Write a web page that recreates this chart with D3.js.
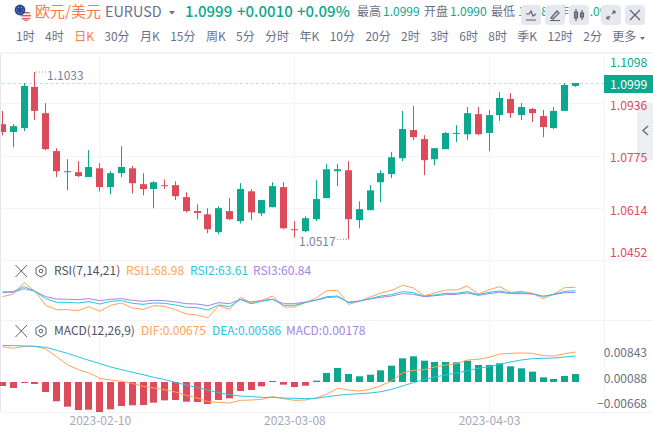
<!DOCTYPE html>
<html>
<head>
<meta charset="utf-8">
<script src="https://cdnjs.cloudflare.com/ajax/libs/d3/7.8.5/d3.min.js"></script>
<style>
  html, body { margin: 0; padding: 0; background: #fff; overflow: hidden; }
  body { width: 653px; height: 432px; position: relative; font-family: "Noto Sans CJK SC", "Noto Sans", sans-serif; }
  svg { position: absolute; left: 0; top: 0; }
  text { font-family: "Noto Sans CJK SC", "Noto Sans", sans-serif; }
  #tabs { position: absolute; left: 16px; top: 27px; display: flex; gap: 10.4px; font-size: 12px; line-height: 18px; color: #6b7085; white-space: nowrap; }
  .tab.on { color: #ff7a45; }
</style>
</head>
<body>
<svg id="chart" width="653" height="432"></svg>
<div id="tabs"></div>
<script>
const tabs = ["1时", "4时", "日K", "30分", "月K", "15分", "周K", "5分", "分时", "年K", "10分", "20分", "2时", "3时", "6时", "8时", "季K", "12时", "2分", "更多"];
const activeTab = "日K";

const opens = [1.0872, 1.0848, 1.0860, 1.0987, 1.0906, 1.0789, 1.0726, 1.0724, 1.0709, 1.0736, 1.0678, 1.0721, 1.0736, 1.0687, 1.0672, 1.0684, 1.0684, 1.0647, 1.0604, 1.0594, 1.0539, 1.0604, 1.0573, 1.0665, 1.0597, 1.0616, 1.0678, 1.0548, 1.0542, 1.0579, 1.0644, 1.0727, 1.0730, 1.0576, 1.0607, 1.0693, 1.0718, 1.0767, 1.0854, 1.0826, 1.0764, 1.0795, 1.0844, 1.0841, 1.0903, 1.0845, 1.0900, 1.0950, 1.0900, 1.0919, 1.0897, 1.0860, 1.0913, 1.0990];
const closes = [1.0848, 1.0866, 1.0990, 1.0913, 1.0795, 1.0727, 1.0727, 1.0712, 1.0740, 1.0678, 1.0721, 1.0740, 1.0690, 1.0672, 1.0693, 1.0683, 1.0650, 1.0604, 1.0598, 1.0548, 1.0613, 1.0579, 1.0672, 1.0600, 1.0638, 1.0681, 1.0551, 1.0547, 1.0582, 1.0641, 1.0733, 1.0733, 1.0579, 1.0610, 1.0668, 1.0721, 1.0770, 1.0857, 1.0832, 1.0761, 1.0798, 1.0845, 1.0845, 1.0906, 1.0841, 1.0900, 1.0953, 1.0906, 1.0925, 1.0906, 1.0863, 1.0913, 1.0993, 1.0999];
const highs = [1.0913, 1.0872, 1.0999, 1.1033, 1.0937, 1.0798, 1.0764, 1.0758, 1.0792, 1.0752, 1.0727, 1.0804, 1.0743, 1.0721, 1.0696, 1.0702, 1.0696, 1.0662, 1.0625, 1.0613, 1.0619, 1.0644, 1.0690, 1.0672, 1.0638, 1.0693, 1.0693, 1.0573, 1.0588, 1.0699, 1.0749, 1.0749, 1.0758, 1.0634, 1.0684, 1.0730, 1.0786, 1.0913, 1.0928, 1.0838, 1.0798, 1.0848, 1.0869, 1.0925, 1.0925, 1.0916, 1.0971, 1.0968, 1.0937, 1.0922, 1.0916, 1.0925, 1.0999, 1.0999];
const lows = [1.0838, 1.0801, 1.0851, 1.0885, 1.0792, 1.0709, 1.0668, 1.0709, 1.0709, 1.0665, 1.0656, 1.0709, 1.0659, 1.0653, 1.0613, 1.0672, 1.0638, 1.0600, 1.0579, 1.0536, 1.0533, 1.0576, 1.0566, 1.0576, 1.0588, 1.0616, 1.0548, 1.0523, 1.0539, 1.0573, 1.0644, 1.0681, 1.0517, 1.0551, 1.0607, 1.0631, 1.0706, 1.0758, 1.0823, 1.0715, 1.0746, 1.0795, 1.0817, 1.0823, 1.0838, 1.0789, 1.0882, 1.0891, 1.0885, 1.0879, 1.0832, 1.0857, 1.0913, 1.0987];

const rsi1 = [54.5, 58.6, 76.2, 62.8, 41.1, 34.3, 34.3, 32.8, 39.0, 31.8, 41.1, 44.7, 36.9, 34.8, 40.5, 39.5, 34.3, 27.6, 26.1, 21.9, 40.5, 34.8, 53.5, 44.7, 48.8, 55.5, 38.5, 38.5, 45.2, 52.4, 63.8, 64.3, 42.6, 47.3, 54.0, 60.2, 64.3, 72.1, 68.0, 56.0, 60.2, 64.8, 64.8, 71.0, 58.6, 65.3, 70.0, 61.2, 62.8, 59.7, 51.4, 58.6, 68.5, 68.98];
const rsi2 = [61.7, 62.3, 70.0, 62.8, 51.4, 45.7, 45.7, 44.7, 46.8, 43.1, 47.3, 48.3, 44.2, 42.6, 44.7, 44.2, 41.6, 38.0, 37.4, 33.8, 41.6, 39.0, 49.9, 43.6, 47.3, 50.4, 41.1, 41.1, 45.2, 49.3, 54.5, 55.5, 45.2, 47.3, 51.4, 55.5, 57.6, 62.3, 60.7, 55.0, 57.1, 59.7, 59.7, 62.3, 57.6, 61.2, 63.3, 60.2, 60.7, 59.2, 55.0, 58.1, 62.8, 63.61];
const rsi3 = [61.2, 61.2, 66.9, 62.8, 54.5, 50.9, 50.4, 49.9, 51.4, 48.3, 50.4, 51.4, 48.8, 47.3, 48.8, 48.3, 46.2, 43.6, 43.1, 40.5, 45.2, 43.6, 50.4, 46.2, 48.8, 50.4, 43.6, 43.6, 46.2, 48.8, 53.0, 54.0, 46.2, 47.8, 50.9, 53.5, 55.5, 59.2, 58.1, 54.5, 56.0, 57.6, 58.1, 60.2, 56.5, 59.2, 61.2, 59.2, 59.2, 58.6, 55.0, 57.6, 60.7, 60.84];

const macdHist = [-0.0009, -0.00135, -0.00023, -0.00045, -0.00225, -0.00435, -0.00555, -0.0063, -0.00623, -0.00675, -0.00615, -0.0054, -0.00525, -0.00518, -0.00465, -0.00413, -0.00405, -0.00443, -0.0045, -0.00495, -0.00405, -0.00368, -0.00203, -0.0018, -0.00098, 0.00023, -0.0006, -0.00113, -0.00083, 0.0003, 0.00203, 0.00315, 0.0018, 0.00128, 0.00165, 0.00263, 0.00368, 0.00533, 0.00578, 0.0048, 0.0045, 0.0045, 0.00443, 0.0048, 0.00383, 0.00383, 0.0042, 0.00353, 0.00308, 0.00233, 0.00105, 0.00068, 0.00135, 0.00178];
const dif = [0.00795, 0.00758, 0.00803, 0.00803, 0.00743, 0.0057, 0.0039, 0.00278, 0.00203, 0.00083, 0.00045, 0.00015, -0.0003, -0.00098, -0.00135, -0.00173, -0.00225, -0.003, -0.0036, -0.00443, -0.00458, -0.00473, -0.00413, -0.00405, -0.0039, -0.0033, -0.00375, -0.00413, -0.00405, -0.0036, -0.0027, -0.00143, -0.0018, -0.00203, -0.00165, -0.00083, 0.0003, 0.00203, 0.00263, 0.00278, 0.00338, 0.00383, 0.00413, 0.00495, 0.0051, 0.00555, 0.0063, 0.00645, 0.00653, 0.00645, 0.00593, 0.00585, 0.00638, 0.00675];
const dea = [0.00825, 0.00818, 0.0081, 0.00803, 0.0078, 0.00713, 0.00645, 0.00563, 0.00488, 0.00413, 0.00338, 0.00278, 0.00218, 0.00165, 0.00105, 0.00053, -0.00008, -0.00068, -0.0012, -0.0018, -0.0024, -0.00285, -0.00315, -0.0033, -0.00345, -0.00345, -0.0036, -0.00368, -0.00375, -0.00368, -0.0033, -0.003, -0.00278, -0.00263, -0.00248, -0.00218, -0.00165, -0.0009, -0.00015, 0.00053, 0.00113, 0.00158, 0.00203, 0.00255, 0.00308, 0.00345, 0.00398, 0.0045, 0.00495, 0.00525, 0.00533, 0.0054, 0.00563, 0.00586];

const priceTicks = [1.1098, 1.0936, 1.0775, 1.0614, 1.0452];
const macdTicks = [0.00843, 0.00088, -0.00668];
const dateTicks = new Map([[9, "2023-02-10"], [27, "2023-03-08"], [45, "2023-04-03"]]);

const GREEN = "#0aa88c", RED = "#dd4b5a", ORANGE = "#ffa25a", CYAN = "#2cc4e0", PURPLE = "#a583e8";
const GRID = "#f3f4f8", GREY = "#6b7085";

const svg = d3.select("#chart");

d3.select("#tabs").selectAll("span").data(tabs).enter().append("span")
  .attr("class", d => d === activeTab ? "tab on" : "tab")
  .text(d => d);

// scales
const x = d3.scaleLinear().domain([0, 53]).range([2.5, 575.5]);
const y = d3.scaleLinear().domain([1.0517, 1.1033]).range([239.3, 72]);
const yRsi = d3.scaleLinear().domain([21.9, 68.98]).range([317.7, 287.3]);
const yMacd = d3.scaleLinear().domain([0, 0.00675]).range([382, 352]);
const yMacdLabel = d3.scaleLinear().domain([-0.00668, 0.00843]).range([404, 353]);
const px = i => Math.floor(x(i));

// frame
const frame = svg.append("g").attr("stroke", GRID).attr("fill", "none");
frame.append("line").attr("x1", 0).attr("x2", 653).attr("y1", 53).attr("y2", 53).attr("stroke-width", 2);
[260.5, 320.5, 412.5].forEach(v => frame.append("line").attr("x1", 2).attr("x2", 653).attr("y1", v).attr("y2", v));
frame.append("line").attr("x1", 604.5).attr("x2", 604.5).attr("y1", 54).attr("y2", 412);
svg.append("rect").attr("x", 0).attr("y", 54).attr("width", 1).attr("height", 358).attr("fill", "#e4e7f2");

// vertical grid and date axis
const dateAxis = d3.axisBottom(x).tickValues([...dateTicks.keys()]).tickFormat(d => dateTicks.get(d)).tickSize(0);
svg.append("g").attr("transform", "translate(0,415)").call(dateAxis)
  .call(g => g.select(".domain").remove())
  .selectAll("text").attr("font-size", 12).attr("fill", "#a6a9bb").attr("dy", "0.55em");
svg.append("g").selectAll("line").data([...dateTicks.keys()]).enter().append("line")
  .attr("x1", d => px(d) + 0.5).attr("x2", d => px(d) + 0.5).attr("y1", 54).attr("y2", 412)
  .attr("stroke", GRID);

// price grid
svg.append("g").selectAll("line").data(priceTicks.slice(1, 4)).enter().append("line")
  .attr("x1", 2).attr("x2", 604).attr("y1", d => Math.round(y(d)) + 0.5).attr("y2", d => Math.round(y(d)) + 0.5)
  .attr("stroke", GRID);

// current price line
svg.append("line").attr("x1", 2).attr("x2", 604).attr("y1", y(1.0999) + 0.5).attr("y2", y(1.0999) + 0.5)
  .attr("stroke", "#b5e5da").attr("stroke-dasharray", "3 2.4");

// candles
const idx = d3.range(opens.length);
const candleColor = i => closes[i] >= opens[i] ? GREEN : RED;
svg.append("clipPath").attr("id", "plot").append("rect").attr("x", 1).attr("y", 54).attr("width", 603).attr("height", 358);
const candles = svg.append("g").attr("clip-path", "url(#plot)").selectAll("g").data(idx).enter().append("g").attr("fill", candleColor).attr("stroke", "none");
candles.append("rect").attr("x", px).attr("width", 1)
  .attr("y", i => y(highs[i])).attr("height", i => y(lows[i]) - y(highs[i]));
candles.append("rect").attr("x", i => px(i) - 3).attr("width", 7)
  .attr("y", i => y(Math.max(opens[i], closes[i])))
  .attr("height", i => Math.max(1, Math.abs(y(opens[i]) - y(closes[i]))));

// high / low labels
const hiLo = svg.append("g").attr("font-size", 12).attr("fill", "#7d8299");
hiLo.append("text").attr("x", 47).attr("y", 76).attr("dy", "0.35em").text("1.1033");
hiLo.append("text").attr("x", 299).attr("y", 242).attr("dy", "0.35em").text("1.0517");
svg.append("line").attr("x1", 36).attr("x2", 46).attr("y1", y(1.1033)).attr("y2", y(1.1033)).attr("stroke", "#8a8ea3").attr("stroke-dasharray", "1 2");
svg.append("line").attr("x1", 337).attr("x2", 348).attr("y1", y(1.0517)).attr("y2", y(1.0517)).attr("stroke", "#8a8ea3").attr("stroke-dasharray", "1 2");

// side handle, under the price labels
svg.append("path").attr("d", "M653 103 H640 Q637 103 637 106 V157 Q637 160 640 160 H653 Z").attr("fill", "#ecedf1").attr("opacity", 0.95);
svg.append("path").attr("d", "M648 126 L643 130.5 L648 135").attr("fill", "none").attr("stroke", "#6b7085").attr("stroke-width", 1.5);

// price axis
const priceAxis = d3.axisRight(y).tickValues(priceTicks).tickFormat(d3.format(".4f")).tickSize(0);
svg.append("g").attr("transform", "translate(610,0)").call(priceAxis)
  .call(g => g.select(".domain").remove())
  .selectAll(".tick")
  .attr("transform", d => `translate(0,${Math.min(252.7, Math.max(62.7, y(d) + 2.8))})`)
  .select("text").attr("x", 0).attr("font-size", 12.2).attr("fill", d => d > 1.0999 ? GREEN : RED);

svg.append("rect").attr("x", 604).attr("y", 75).attr("width", 49).attr("height", 18).attr("fill", GREEN);
svg.append("text").attr("x", 610).attr("y", 84.5).attr("dy", "0.35em").attr("font-size", 12.2).attr("fill", "#fff").text("1.0999");

// RSI panel
const lineOf = (arr, scale) => d3.line().x((d, i) => x(i)).y(d => scale(d))(arr);
svg.append("clipPath").attr("id", "rsiClip").append("rect").attr("x", 1).attr("y", 261).attr("width", 603).attr("height", 59);
const rsiG = svg.append("g").attr("clip-path", "url(#rsiClip)").attr("fill", "none");
[[rsi3, PURPLE], [rsi1, ORANGE], [rsi2, CYAN]].forEach(([arr, c]) => {
  rsiG.append("path").attr("d", lineOf(arr, yRsi)).attr("stroke", c).attr("stroke-width", 1);
});

// MACD panel
svg.append("g").selectAll("rect").data(macdHist).enter().append("rect")
  .attr("x", (d, i) => px(i) - 3).attr("width", 7)
  .attr("y", d => Math.min(yMacd(d), yMacd(0)))
  .attr("height", d => Math.max(1, Math.abs(yMacd(d) - yMacd(0))))
  .attr("fill", d => d >= 0 ? GREEN : RED);
[[dif, ORANGE], [dea, CYAN]].forEach(([arr, c]) => {
  svg.append("path").attr("d", lineOf(arr, yMacd)).attr("fill", "none").attr("stroke", c).attr("stroke-width", 1);
});

const macdAxis = d3.axisRight(yMacdLabel).tickValues(macdTicks).tickFormat(d3.format(".5f")).tickSize(0);
svg.append("g").attr("transform", "translate(647,0)").call(macdAxis)
  .call(g => g.select(".domain").remove())
  .selectAll("text").attr("x", 0).attr("text-anchor", "end").attr("font-size", 12).attr("fill", GREY);

// panel legends
function panelHead(yc, title, items) {
  const g = svg.append("g");
  g.append("path").attr("d", `M15.5 ${yc - 6} L27 ${yc + 6} M27 ${yc - 6} L15.5 ${yc + 6}`).attr("stroke", "#5c6070").attr("fill", "none");
  g.append("path").attr("d", `M41 ${yc - 6} L46 ${yc - 3} V${yc + 3} L41 ${yc + 6} L36 ${yc + 3} V${yc - 3} Z`).attr("stroke", "#5c6070").attr("fill", "none");
  g.append("circle").attr("cx", 41).attr("cy", yc).attr("r", 1.8).attr("stroke", "#5c6070").attr("fill", "none");
  g.append("text").attr("x", 54).attr("y", yc).attr("dy", "0.35em").attr("font-size", 12).attr("fill", "#4e5264").text(title);
  items.forEach(it => {
    g.append("text").attr("x", it[0]).attr("y", yc).attr("dy", "0.35em").attr("font-size", 12).attr("fill", it[2]).text(it[1]);
  });
}
panelHead(271, "RSI(7,14,21)", [[126, "RSI1:68.98", ORANGE], [190, "RSI2:63.61", CYAN], [253, "RSI3:60.84", PURPLE]]);
panelHead(331, "MACD(12,26,9)", [[141, "DIF:0.00675", ORANGE], [212, "DEA:0.00586", CYAN], [286, "MACD:0.00178", PURPLE]]);

// top row
const head = svg.append("g");
const htext = (xp, txt, size, color, weight) => head.append("text").attr("x", xp).attr("y", 12).attr("dy", "0.35em")
  .attr("font-size", size).attr("fill", color).attr("font-weight", weight || 400).text(txt);
htext(35, "欧元/美元", 15, "#ff7a45");
htext(105, "EURUSD", 14.4, GREY);
head.append("path").attr("d", "M169 11 H175 L172 14.5 Z").attr("fill", GREY);
htext(185, "1.0999", 15, GREEN, 500);
htext(237, "+0.0010", 15, GREEN, 500);
htext(297, "+0.09%", 15, GREEN, 500);
htext(357, "最高", 12, GREY); htext(383, "1.0999", 12, GREEN);
htext(424, "开盘", 12, GREY); htext(450, "1.0990", 12, GREEN);
htext(491, "最低", 12, GREY); htext(518, "1.0985", 12, GREEN);
htext(557, "昨收", 12, GREY); htext(583, "1.0989", 12, GREEN);

// flags
const flag = svg.append("g");
flag.append("clipPath").attr("id", "us").append("circle").attr("cx", 26).attr("cy", 16).attr("r", 5);
flag.append("circle").attr("cx", 26).attr("cy", 16).attr("r", 5).attr("fill", "#f4f4f6");
[12, 15, 18, 20].forEach(v => flag.append("rect").attr("x", 20).attr("y", v).attr("width", 12).attr("height", 1.4).attr("fill", "#d9534f").attr("clip-path", "url(#us)"));
flag.append("circle").attr("cx", 20).attr("cy", 10).attr("r", 5.4).attr("fill", "#274a9c");
d3.range(6).forEach(k => flag.append("circle").attr("cx", 20 + 3.2 * Math.cos(k * Math.PI / 3)).attr("cy", 10 + 3.2 * Math.sin(k * Math.PI / 3)).attr("r", 0.5).attr("fill", "#f3d250"));

// toolbar buttons
const buttons = [521, 545, 569, 601, 625];
const btn = svg.append("g").selectAll("g").data(buttons).enter().append("g").attr("transform", d => `translate(${d},5)`);
btn.append("rect").attr("width", 20).attr("height", 20).attr("rx", 4).attr("fill", "#e6e8ef");
const icons = [
  "M5 9 L8 9 L10 6 L12 11 L15 9 M5 15 H15",
  "M6 13 L12 6 L14 8 L8 14 Z M5 15.5 H15",
  "M7 4 V16 M13 5 V15 M5.5 7 H8.5 V13 H5.5 Z M11.5 8 H14.5 V12 H11.5 Z",
  "M6 14 L9 11 M6 14 V11.5 M6 14 H8.5 M14 6 L11 9 M14 6 V8.5 M14 6 H11.5",
  "M5 5 L15 15 M15 5 L5 15"
];
btn.append("path").attr("d", (d, i) => icons[i]).attr("fill", "none").attr("stroke", "#5c6070").attr("stroke-width", 1.2);

// caret after 更多
svg.append("path").attr("d", "M640 37 H645 L642.5 40 Z").attr("fill", GREY);
</script>
</body>
</html>
